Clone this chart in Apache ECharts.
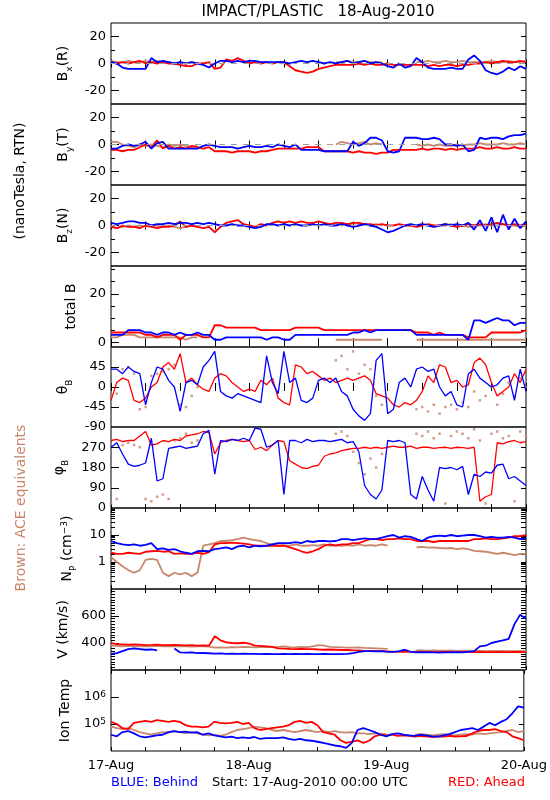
<!DOCTYPE html>
<html><head><meta charset="utf-8">
<script src="https://cdn.jsdelivr.net/npm/echarts@6/dist/echarts.min.js"></script>
<style>html,body{margin:0;padding:0;background:#fff}#c{width:550px;height:800px}</style>
</head><body><div id="c"></div>
<script>
const _ = null;
// time base: hours from 17-Aug-2010 00:00 UTC, hourly samples 0..72
const dayLabels = {0:'17-Aug', 24:'18-Aug', 48:'19-Aug', 72:'20-Aug'};

// ---- B_x (R), nT
const bxBlue = [1,0,-3,-4,-4,-4,-4,4,1,2, 1,0,1,0,1,0,-1,-3,0,2, 2,1,2,1,2,2,1,1,1,1, 1,0,1,2,1,2,1,0,1,0, 1,2,0,1,2,0,1,0,-2,-3, 0,-3,-2,4,1,-3,-4,-4,-4,-3, -4,-4,3,6,2,-5,-7,-8,-6,-3, -5,-2,-4];
const bxRed = [1,0,1,0,1,2,0,1,0,1, 0,0,-1,-2,-2,0,0,1,-4,-3, 3,2,4,2,0,1,0,1,0,1, 1,-2,-5,-6,-7,-6,-4,-3,-2,-1, -1,-1,-1,0,-1,0,-1,-1,0,-1, -1,-1,-1,-1,-1,-2,-1,-2,-1,-1, -2,-1,-1,0,0,1,0,1,2,1, 1,2,1];
const bxBrown = [2,1,1,2,1,1,2,1,2,1, 1,0,1,0,1,0, _,_,_,_,_,_,_,_,_,_,_,_,_,_,_,_,_,_,_,_,_,_,_, 1,1,2,1,1,2,1,1,1, _,_,_,_,_, 1,1,2,1,1,2,1,1,2,1, 1,1,1,2,1,1,2,1,1,2];
// ---- B_y (T)
const byBlue = [-3,-3,-1,0,-1,0,2,-3,1,2, -3,-3,-3,-3,-3,-3,-1,0,-1,-2, -2,-2,-3,-2,-1,-2,-2,-1,-2,0, -1,-2,0,-4,-4,-4,-4,-5,-5,-5, -5,-5,2,-1,1,5,5,3,-5,-6, -5,5,5,5,4,4,5,4,0,0, -1,0,-5,-4,5,4,5,5,4,6, 7,7,8];
const byRed = [-4,-4,-5,-4,-4,-2,0,-2,3,-3, -1,-3,-2,-3,-1,-2,-3,-2,-5,-5, -5,-6,-5,-5,-5,-6,-5,-5,-4,-3, -3,-3,-3,-3,-2,-2,-2,-5,-5,-5, -5,-5,-6,-5,-6,-6,-7,-6,-6,-4, -4,-4,-4,-4,-3,-4,-3,-3,-4,-3, -4,-3,-3,-3,-2,-3,-3,-2,-3,-3, -2,-3,-3];
const byBrown = [2,2,0,-1,-2,0,-1,0,-1,-2, 0,-1,0,-1,-2,-1, _,_,_,_,_,_,_,_,_,_,_,_,_,_,_,_,_,_,_,_,_,_,_, 0,2,1,0,1,2,0,1,0, _,_,_,_,_, 0,-1,0,-1,0,-1,-1,0,-1,0, 0,1,0,0,0,1,0,0,1,0];
// ---- B_z (N)
const bzBlue = [2,1,2,3,3,2,2,0,1,1, 2,1,2,2,1,2,1,2,1,0, 0,1,0,0,-1,-2,-1,1,1, 0,1,0,1,0,0,1,0,1,0, 0,1,0,-1,0,1,0,-1,-3,-5, -4,-2,0,1,0,1,0,-1,0,1, 0,1,0,2,-3,4,-4,6,-5,8, -3,5,-2,3];
const bzRed = [-1,-2,0,-1,-1,-2,0,-1,-2,-1, -1,0,3,-1,0,-1,-2,-1,-5,-1, 2,3,4,1,0,-1,1,0,2, 3,2,3,2,3,2,2,3,2,1, 2,2,1,2,2,1,1,0,1,0, 0,1,0,0,-1,0,1,0,0,1, 0,-1,0,1,0,1,0,1,2,1, 0,1,0,1];
const bzBrown = [0,-2,-1,0,-1,0,-1,0,0,-1, 0,-1,-2,-1,0,-1, _,_,_,_,_,_,_,_,_,_,_,_,_,_,_,_,_,_,_,_,_,_,_, 1,0,1,0,0,1,0,1,0, _,_,_,_,_, 0,1,0,-1,0,0,1,0,0,-1, 0,0,1,0,0,1,0,0,-1,0];
// ---- total B
const btBlue = [3,3,3,5,5,5,4,4,3,4, 4,3,4,3,3,4,3,3,1,1, 2,2,2,2,2,2,2,1,2,2, 1,1,3,3,3,3,3,3,3,3, 3,3,4,4,5,4,5,5,5,5, 5,5,5,3,3,3,3,3,3,3, 3,3,1,9,9,8,9,10,9,9, 7,8,8];
const btRed = [4,4,4,4,4,4,3,3,2,3, 3,3,1,3,3,3,2,2,7,7, 6,6,6,6,6,6,5,5,5,5, 5,5,6,6,6,6,6,5,5,5, 5,5,5,5,5,5,5,5,5,5, 5,5,5,4,4,4,3,4,3,3, 3,3,2,2,2,2,4,4,4,4, 4,4,5];
const btBrown = [2,2,3,3,3,2,2,2,2,2, 2,2,2,1,2,2, _,_,_,_,_,_,_,_,_,_,_,_,_,_,_,_,_,_,_,_,_,_,_, 1,1,1,1,1,1,1,1,1, _,_,_,_,_, 1,1,1,1,1,1,1,1,1,1, 1,1,1,1,1,1,1,1,1,1];
// ---- theta_B (deg)
const thBlue = [40,40,30,45,35,30,-40,10,45,40, 15,0,-55,10,15,5,45,60,80,-10, -20,-25,-15,-20,-25,-30,-35,70,10, -15,80,10,20,-30,-35,-25,15,20,10, 20,-10,-20,-50,-65,-75,-60,60,75,-60, -50,10,20,0,40,45,35,40,0,-20, -10,-40,-45,30,40,20,10,0,5,20, 25,-30,40,-10];
const thRed = [-30,10,20,15,-30,-35,-25,0,10,45, 55,40,75,10,20,5,-5,-10,20,30, 25,10,0,-10,-5,-10,15,5,20, -25,-35,-40,50,45,30,35,25,15,20, 10,15,20,15,20,25,15,-15,-20,-25, -40,-45,-35,-40,-30,-10,25,10,50,45, 10,15,0,5,55,65,50,10,-20,-10, 0,30,10,40];
const thBrown = [-20,-15,40,45,30,-50,-45,25,30,35,40,50,-40,-45,-20,0, _,_,_,_,_,_,_,_,_,_,_,_,_,_,_,_,_,_,_,_,_,_,_, 60,70,40,80,30,50,40,-20,-40, _,_,_,_,_, -50,-45,-55,-40,-60,-45,-40,-50,-35,-45,-10,-30,-20,0,-40,-15,10,-20,20,0];
// ---- phi_B (deg)
const phBlue = [270,290,240,195,185,190,200,310,120,130, 265,270,275,265,270,275,330,345,150,300, 295,305,300,310,300,355,350,270,280, 300,60,300,300,290,305,295,300,300,295, 300,305,290,295,250,100,60,40,80,300, 295,300,290,60,40,140,80,30,180,175, 180,170,185,60,150,140,160,155,190,195, 130,140,120,100];
const phRed = [300,305,295,300,300,320,340,280,285,300, 295,305,300,320,325,330,340,335,240,290, 300,305,300,295,300,260,270,255,280, 300,295,210,195,180,175,185,190,230,240, 245,255,260,265,265,270,265,270,265,270, 275,270,270,275,265,270,270,265,268,270, 265,270,268,265,270,30,50,60,290,285, 295,300,290,295];
const phBrown = [20,40,280,290,280,270,40,30,50,60,40,300,310,330,290,300, _,_,_,_,_,_,_,_,_,_,_,_,_,_,_,_,_,_,_,_,_,_,_, 330,340,320,250,200,150,220,180,240, _,_,_,_,_, 330,320,340,310,330,20,320,340,330,310,350,300,20,330,340,310,320,30,340,320];
// ---- N_P (cm^-3)
const npBlue = [6,5,4.5,4.2,4.5,4,4.3,5,3,3.2, 2.8,3,2.5,2.2,2,2.5,2.6,2.5,3,3.2, 3.5,3,3.8,4,3.5,4,3.8,4,4.5, 5,5,5,5.5,5,6,5.5,6,6,5.8, 6,7,7,6.5,7,7.5,7,7,8,9, 10,8,9,8.5,7,6,8,9,9.5,9, 10,9,9.5,10,10,9,8,8.5,8,8, 8.5,8,7,7.5];
const npRed = [2.2,2,2,2.2,2.1,2,2.4,2.5,2.6,2.4, 2.5,2,2.1,2,2,2.2,2,2.3,4.5,5, 5,5.2,5,4.8,4.5,4,4,4,4, 4,4,3.5,3,2.5,2.2,2.5,3,4,4.5, 4,4.5,4.5,5,5,6,7,7,6.5,7, 7,7.5,7,7,6,6,6,5.5,6,6, 6,6,6,6,7,7,7.5,7,7,7.5, 8,9,9,10];
const npBrown = [1.5,1,0.7,0.5,0.4,0.5,1.2,1.3,1.2,0.4, 0.3,0.4,0.35,0.4,0.3,0.4,4,4.5,5,6, 6,6.5,7,8,7,6.5,6,5,4.5, 4,4.2,4,4.5,4,4,4.2,4,4.5,4, 4.2,4,4.2,4,4.5,4,4.2,4,4.5,4, _,_,_,_, 3.5,3.6,3.4,3.5,3.3,3.2, 3.3,3,3.2,3,2.6,2.5,2.4,2.2,2,2.2, 2,1.8,2,2];
// ---- V (km/s)
const vBlue = [320,325,340,355,360,355,350,352,345,_, _,360,330,328,330,325,326,324,322,323, 320,321,320,322,320,320,318,320,318, 318,320,318,320,318,319,318,318,320,318, 317,318,320,325,335,340,340,338,340,335, 335,340,350,335,330,332,330,330,328,330, 330,332,330,335,340,375,380,400,410,420, 430,540,610,580];
const vRed = [400,392,390,388,390,388,385,386,388,385, 384,386,385,383,385,380,382,380,450,420, 405,400,398,402,395,380,378,375,372, 360,358,356,355,356,354,355,352,350,352, 350,348,348,345,345,342,342,340,340,338, 336,335,336,335,336,334,335,333,334,335, 334,333,334,335,332,334,333,332,334,333, 332,334,333,332];
const vBrown = [380,378,376,378,375,377,376,375,378,376, 375,377,376,375,374,376,375,374,365,368, 366,370,368,372,370,368,370,372,370, 372,375,370,368,372,370,375,385,380,372, 370,368,366,365,367,364,362,360,358,356, _,_,_,_, 345,346,344,345,343,344, 345,342,343,344,342,341,340,342,340,341, 339,340,341,340];
// ---- Ion Temp (K)
const tBlue = [4e4,3.5e4,5e4,5.5e4,4.5e4,3.5e4,3.2e4,3.5e4,3.8e4,4e4, 5e4,5.5e4,5e4,5.2e4,4.8e4,5e4,4e4,4.5e4,3.8e4,3.5e4, 3.2e4,3.4e4,3e4,3.2e4,3e4,3.3e4,2.8e4,3e4,3e4, 3e4,3.2e4,2.8e4,2.6e4,2.8e4,2.5e4,2.4e4,2.2e4,2e4,1.8e4, 1.6e4,1.5e4,1.3e4,2e4,6e4,7e4,6e4,5e4,4e4,3.5e4, 4.2e4,4.5e4,4e4,3.8e4,3.6e4,4e4,3.8e4,3.5e4,3.4e4,3.8e4, 4.2e4,5e4,6e4,6.5e4,7e4,6e4,8e4,1.1e5,9e4,1.2e5, 1.5e5,2.5e5,4.5e5,4e5];
const tRed = [1.2e5,1e5,7e4,6.5e4,1.1e5,1.2e5,1.3e5,1.2e5,1.4e5,1.3e5, 1.2e5,1.3e5,1.2e5,9e4,8e4,8e4,7.5e4,8e4,1.2e5,1.1e5, 1.05e5,1.1e5,1.2e5,1e5,1.1e5,7e4,6e4,6.5e4,7e4, 7.5e4,8e4,9e4,1.2e5,1.3e5,1.1e5,1.2e5,9e4,5e4,4.5e4, 4e4,2.5e4,2e4,2.2e4,2.5e4,2e4,2.4e4,3.5e4,4e4,3.8e4, 4e4,3.6e4,3.8e4,3.6e4,3.4e4,3.6e4,3.5e4,3.3e4,3.5e4,3.4e4, 3.6e4,3.4e4,3.5e4,3.6e4,4.5e4,5.5e4,6e4,6e4,6.5e4,5.5e4, 5e4,3.5e4,3e4,2.5e4];
const tBrown = [8e4,7e4,6.5e4,7e4,6e4,5e4,4.5e4,4e4,4.5e4,5e4, 4.8e4,5.5e4,5e4,4.5e4,5e4,4.5e4,4e4,3.8e4,4e4,3.6e4, 4e4,5e4,6e4,6.5e4,7e4,8e4,7.5e4,7e4,6e4, 5.5e4,6e4,5.5e4,5e4,5.5e4,6e4,5.5e4,5e4,5.5e4,5e4, 5.5e4,5e4,4.8e4,5e4,4.5e4,4.5e4,4.2e4,4.5e4,4.4e4,4.2e4, _,_,_,_, 4e4,4.2e4,4e4,3.8e4,4e4,4.2e4, 4e4,3.8e4,4e4,4.2e4,4e4,4.5e4,4.2e4,4.5e4,4.8e4,5e4, 5.5e4,6e4,5e4,5.5e4];

// ---- tick labels
const bLabels = [-20, 0, 20];
const btLabels = [0, 20];
const thLabels = [-90, -45, 0, 45];
const phLabels = [0, 90, 180, 270];
const npLabels = [1, 10];
const vLabels = [400, 600];
const tLabels = [1e5, 1e6];

// ---------------- rendering ----------------
const F = 'DejaVu Sans';
const C = {blue:'#0000ff', red:'#ff0000', brown:'#c8866b'};
const TOPS = [23,104,185,266,347,427,508,589,670];
const BOTTOM = 751;
const logMinor = (lo, hi) => { const r=[]; for (let d=lo; d<hi; d*=10) for (let k=2;k<=9;k++) r.push(+(d*k).toPrecision(3)); return r; };
const vMinor = []; for (let v=220; v<800; v+=20) if (v!==400 && v!==600) vMinor.push(v);

const panels = [
  {name:'{m|B}{s|x}{m|(R)}', min:-30, max:30, labels:bLabels, major:[-20,0,20], minor:[-10,10], gap:38, d:[bxBrown,bxRed,bxBlue], zero:true},
  {name:'{m|B}{s|y}{m|(T)}', min:-30, max:30, labels:bLabels, major:[-20,0,20], minor:[-10,10], gap:38, d:[byBrown,byRed,byBlue], zero:true},
  {name:'{m|B}{s|z}{m|(N)}', min:-30, max:30, labels:bLabels, major:[-20,0,20], minor:[-10,10], gap:38, d:[bzBrown,bzRed,bzBlue], zero:true},
  {name:'total B', min:-2, max:31.5, labels:btLabels, major:[0,20], minor:[5,10,15,25,30], gap:31, d:[btBrown,btRed,btBlue]},
  {name:'{m|θ}{s|B}', min:-90, max:90, labels:thLabels, major:[-45,0,45], minor:[], gap:37, d:[thBrown,thRed,thBlue], angle:true},
  {name:'{m|φ}{s|B}', min:0, max:360, labels:phLabels, major:[90,180,270], minor:[], gap:40, d:[phBrown,phRed,phBlue], angle:true},
  {name:'{m|N}{s|P}{m| (cm}{p|−3}{m|)}', type:'log', min:0.1, max:100, labels:npLabels, major:[1,10], minor:logMinor(0.1,100), gap:30, d:[npBrown,npRed,npBlue]},
  {name:'V (km/s)', min:200, max:800, labels:vLabels, major:[400,600], minor:vMinor, gap:35, d:[vBrown,vRed,vBlue]},
  {name:'Ion Temp', type:'log', min:1e4, max:1e7, labels:tLabels, major:[1e5,1e6], minor:[], gap:33, d:[tBrown,tRed,tBlue],
   fmt: v => '10{p|' + Math.round(Math.log10(v)) + '}'}
];

const rich = {
  m:{fontSize:14, lineHeight:14, verticalAlign:'top', fontFamily:F, color:'#000'},
  s:{fontSize:9, lineHeight:9, padding:[9,0,0,0], verticalAlign:'top', fontFamily:F, color:'#000'},
  p:{fontSize:9, lineHeight:9, verticalAlign:'top', fontFamily:F, color:'#000'}
};

const grid=[], xAxis=[], yAxis=[], series=[];
panels.forEach((p,i) => {
  const top = TOPS[i], h = (i<8 ? TOPS[i+1] : BOTTOM) - top;
  grid.push({left:111, width:415, top:top, height:h, show:true, borderColor:'#000', borderWidth:1, backgroundColor:'transparent'});
  const last = i===8;
  const xb = {gridIndex:i, type:'value', min:0, max:72, interval:6, splitLine:{show:false}, axisLine:{show:false},
    axisTick:{show:true, inside:true, length:4, lineStyle:{color:'#000'}}};
  xAxis.push(Object.assign({}, xb, {position:'bottom',
    axisLabel:{show:last, margin:8, color:'#000', fontSize:13, fontFamily:F, formatter: v => dayLabels[v] || ''}}));
  xAxis.push(Object.assign({}, xb, {position:'top', axisLabel:{show:false}}));
  const base = {gridIndex:i, type:p.type||'value', min:p.min, max:p.max, splitLine:{show:false}, axisLine:{show:false}};
  if (p.type==='log') base.logBase = 10;
  yAxis.push(Object.assign({}, base, {position:'left', name:p.name, nameLocation:'middle', nameGap:p.gap, nameRotate:90,
    nameTextStyle:{color:'#000', fontSize:14, fontFamily:F, rich:rich},
    axisTick:{show:true, inside:true, length:8, customValues:p.major, lineStyle:{color:'#000'}},
    axisLabel:{show:true, customValues:p.labels, margin:5, color:'#000', fontSize:13, fontFamily:F, formatter:p.fmt, rich:rich}}));
  yAxis.push(Object.assign({}, base, {position:'left',
    axisTick:{show:p.minor.length>0, inside:true, length:4, customValues:p.minor.length?p.minor:[p.min], lineStyle:{color:'#000'}},
    axisLabel:{show:false}}));
  yAxis.push(Object.assign({}, base, {position:'right',
    axisTick:{show:true, inside:true, length:5, customValues:p.major.concat(p.minor), lineStyle:{color:'#000'}},
    axisLabel:{show:false}}));
  const cols = [C.brown, C.red, C.blue];
  p.d.forEach((arr,k) => {
    const s = {xAxisIndex:2*i, yAxisIndex:3*i, data:arr.map((v,hh)=>[hh,v]), silent:true, animation:false, clip:true};
    if (p.angle && k===0) {
      Object.assign(s, {type:'scatter', symbol:'rect', symbolSize:2.5, itemStyle:{color:cols[k]}});
    } else {
      Object.assign(s, {type:'line', showSymbol:false, symbol:'none', connectNulls:false,
        lineStyle:{color:cols[k], width: p.angle ? 1.3 : 1.8}, itemStyle:{color:cols[k]}});
    }
    if (p.zero && k===0) {
      s.markLine = {silent:true, symbol:'none', animation:false, label:{show:false},
        lineStyle:{color:'#a0a0a0', type:[6,6], width:1}, data:[{yAxis:0}]};
    }
    series.push(s);
  });
});

const txt = (x,y,text,fill,opt) => Object.assign({type:'text', x:x, y:y, silent:true,
  style:Object.assign({text:text, fill:fill, font:'13px "DejaVu Sans"', textAlign:'left', textVerticalAlign:'middle', align:'left', verticalAlign:'middle'}, opt && opt.style)},
  opt && opt.el);

const graphic = [
  txt(318, 12, 'IMPACT/PLASTIC   18-Aug-2010', '#000', {style:{font:'15px "DejaVu Sans"', textAlign:'center', align:'center'}}),
  txt(20, 181, '(nanoTesla, RTN)', '#000', {style:{font:'14px "DejaVu Sans"', textAlign:'center', align:'center'}, el:{rotation:Math.PI/2}}),
  txt(21, 508, 'Brown: ACE equivalents', C.brown, {style:{font:'14px "DejaVu Sans"', textAlign:'center', align:'center'}, el:{rotation:Math.PI/2}}),
  txt(111, 783, 'BLUE: Behind', C.blue),
  txt(212, 783, 'Start: 17-Aug-2010 00:00 UTC', '#000'),
  txt(525, 783, 'RED: Ahead', C.red, {style:{textAlign:'right', align:'right'}})
];

const chart = echarts.init(document.getElementById('c'), null, {renderer:'canvas'});
chart.setOption({animation:false, backgroundColor:'#fff', grid, xAxis, yAxis, series, graphic});
</script></body></html>
